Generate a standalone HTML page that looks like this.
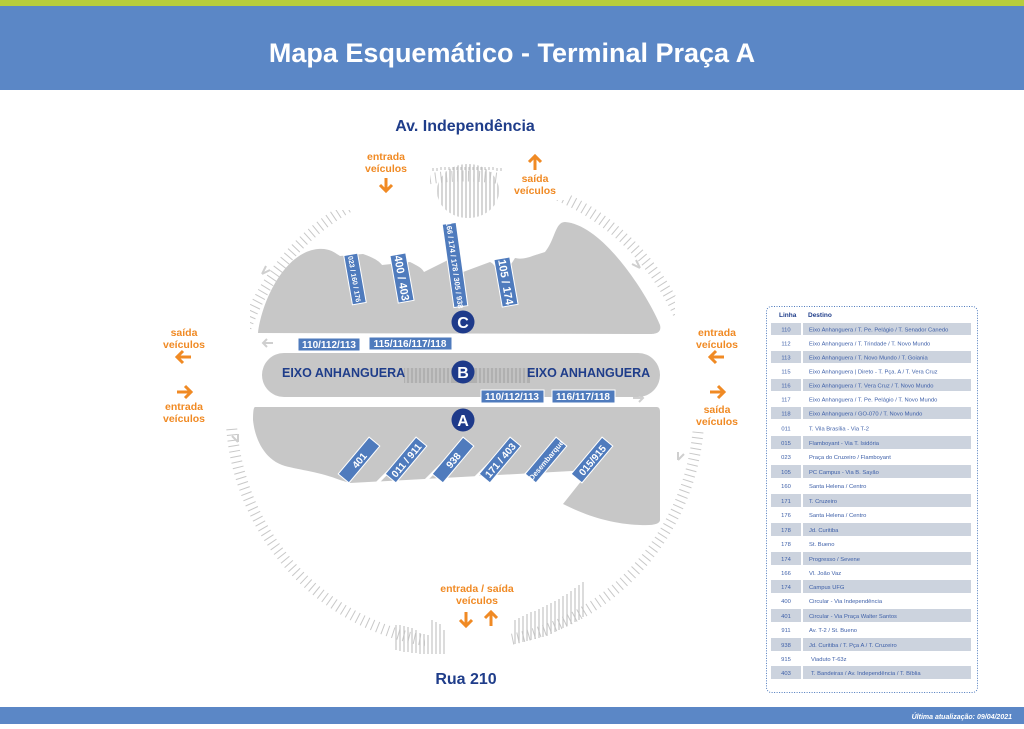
<!DOCTYPE html>
<html><head><meta charset="utf-8"><style>
body{margin:0;width:1024px;height:724px;overflow:hidden;background:#fff;font-family:"Liberation Sans",sans-serif}
</style></head><body>
<svg width="1024" height="724" viewBox="0 0 1024 724" xmlns="http://www.w3.org/2000/svg" font-family="Liberation Sans, sans-serif">
<rect x="0" y="0" width="1024" height="6" fill="#b7cd3c"/>
<rect x="0" y="6" width="1024" height="84" fill="#5b87c6"/>
<text x="512" y="62" font-size="27" font-weight="bold" fill="#fff" text-anchor="middle">Mapa Esquemático - Terminal Praça A</text>
<rect x="0" y="707" width="1024" height="17" fill="#5b87c6"/>
<text x="1012" y="719" font-size="7" font-style="italic" font-weight="bold" fill="#fff" text-anchor="end">Última atualização: 09/04/2021</text>

<text x="465" y="131" font-size="16" font-weight="bold" fill="#1f3d8a" text-anchor="middle">Av. Independência</text>
<text x="466" y="684" font-size="16" font-weight="bold" fill="#1f3d8a" text-anchor="middle">Rua 210</text>

<!-- ring -->
<circle cx="465" cy="410" r="234" fill="none" stroke="#c8c8c8" stroke-width="11" stroke-dasharray="1 4.5"/>
<rect x="300" y="140" width="130" height="70" fill="#fff"/>
<rect x="500" y="140" width="68" height="60" fill="#fff"/>
<rect x="150" y="300" width="100" height="128" fill="#fff"/>
<rect x="675" y="296" width="100" height="134" fill="#fff"/>
<rect x="425" y="570" width="85" height="90" fill="#fff"/>
<!-- top hatch -->
<clipPath id="ce"><ellipse cx="468" cy="191" rx="31" ry="27"/></clipPath>
<g clip-path="url(#ce)">
<path d="M438 160V220M442 160V220M446 160V220M450 160V220M454 160V220M458 160V220M462 160V220M466 160V220M470 160V220M474 160V220M478 160V220M482 160V220M486 160V220M490 160V220M494 160V220M498 160V220" stroke="#c4c4c4" stroke-width="1.4"/></g>
<path d="M433 168V171M437 168V171M441 167V170M445 167V170M449 167V170M453 167V170M457 167V170M461 167V170M465 167V170M469 167V170M473 167V170M477 167V170M481 167V170M485 167V170M489 167V170M493 167V170M497 168V171M501 168V171" stroke="#c4c4c4" stroke-width="1.2"/>
<!-- bottom hatches -->
<path d="M396 625V650M400 625V651M404 626V652M408 627V652M412 628V653M416 630V653M420 633V654M424 634V654M428 635V654M432 620V654M436 622V654M440 624V654M444 630V654" stroke="#c4c4c4" stroke-width="1.2"/>
<path d="M515 620V644M519 618V643M523 616V642M527 614V641M531 612V640M535 611V639M539 609V638M543 607V637M547 605V636M551 603V634M555 601V632M559 599V630M563 596V628M567 594V626M571 591V624M575 588V622M579 585V620M583 582V617" stroke="#c4c4c4" stroke-width="1.2"/>

<!-- orange labels -->
<g fill="#f08a24" font-size="10.5" font-weight="bold" text-anchor="middle">
<text x="386" y="160">entrada</text><text x="386" y="172">veículos</text>
<text x="535" y="182">saída</text><text x="535" y="194">veículos</text>
<text x="184" y="336">saída</text><text x="184" y="348">veículos</text>
<text x="184" y="410">entrada</text><text x="184" y="422">veículos</text>
<text x="717" y="336">entrada</text><text x="717" y="348">veículos</text>
<text x="717" y="413">saída</text><text x="717" y="425">veículos</text>
<text x="477" y="592">entrada / saída</text><text x="477" y="604">veículos</text>
</g>
<g stroke="#f08a24" stroke-width="3" fill="none">
<path d="M386 178V191M380 185L386 191L392 185"/>
<path d="M535 170V156M529 162L535 156L541 162"/>
<path d="M191 357H177M183 351L177 357L183 363"/>
<path d="M177 392H191M185 386L191 392L185 398"/>
<path d="M724 357H710M716 351L710 357L716 363"/>
<path d="M710 392H724M718 386L724 392L718 398"/>
<path d="M466 612V626M460 620L466 626L472 620"/>
<path d="M491 626V612M485 618L491 612L497 618"/>
</g>
<g stroke="#cfcfcf" stroke-width="2" fill="none">
<path d="M273 343H263M267 339L263 343L267 347"/>
<path d="M633 398H643M639 394L643 398L639 402"/>
<path d="M262 274L270 270M262 274L266 266"/>
<path d="M640 268L632 264M640 268L636 260"/>
<path d="M238 442L232 436M238 442L238 434"/>
<path d="M678 460L684 454M678 460L678 452"/>
</g>

<!-- platform C -->
<path d="M258 333 C262 300 285 252 318 249 C330 248 335 253 340 256 L363 254 C375 258 380 262 382 265 L410 262 C418 266 422 268 424 272 L448 260 C452 262 454 268 455 275 L490 262 C495 264 497 270 500 282 L515 258 C525 260 528 257 545 252 C555 240 555 222 565 222 C605 225 650 300 660 325 C662 333 655 334 650 334 Z" fill="#c7c7c7"/>
<!-- platform B -->
<rect x="262" y="353" width="398" height="44" rx="22" fill="#c7c7c7"/>
<path d="M404 368H530V383H404Z" fill="#b0b0b0"/>
<path d="M406 368V383M410 368V383M414 368V383M418 368V383M422 368V383M426 368V383M430 368V383M434 368V383M438 368V383M442 368V383M446 368V383M450 368V383M478 368V383M482 368V383M486 368V383M490 368V383M494 368V383M498 368V383M502 368V383M506 368V383M510 368V383M514 368V383M518 368V383M522 368V383M526 368V383" stroke="#c7c7c7" stroke-width="1.5"/>
<!-- platform A -->
<path d="M255 407 H657 Q660 407 660 412 V520 Q660 526 640 525 C610 524 585 515 563 504 L590 470 L350 483 L340 480 C320 472 300 470 285 466 C265 460 255 440 253 420 Q253 407 255 407 Z" fill="#c7c7c7"/>
<!-- teeth gaps -->
<g stroke="#fff" stroke-width="3">
<path d="M372 488L405 455M418 488L451 455M465 488L498 455M512 488L545 455M558 488L585 462"/>
</g>

<!-- circles -->
<g font-weight="bold" font-size="16" fill="#fff" text-anchor="middle">
<circle cx="463" cy="322" r="11.5" fill="#1e3a8a"/><text x="463" y="328">C</text>
<circle cx="463" cy="372" r="11.5" fill="#1e3a8a"/><text x="463" y="378">B</text>
<circle cx="463" cy="420" r="11.5" fill="#1e3a8a"/><text x="463" y="426">A</text>
</g>
<g font-weight="bold" font-size="12.5" fill="#1f3d8a">
<text x="282" y="377">EIXO ANHANGUERA</text>
<text x="527" y="377">EIXO ANHANGUERA</text>
</g>

<!-- blue tags -->
<g font-weight="bold" fill="#fff" font-size="10" text-anchor="middle">
<rect x="298" y="338" width="62" height="13" fill="#4f7bbd" stroke="#fff"/><text x="329" y="348">110/112/113</text>
<rect x="369" y="337" width="83" height="13" fill="#4f7bbd" stroke="#fff"/><text x="410" y="347">115/116/117/118</text>
<rect x="481" y="390" width="63" height="13" fill="#4f7bbd" stroke="#fff"/><text x="512" y="400">110/112/113</text>
<rect x="552" y="390" width="63" height="13" fill="#4f7bbd" stroke="#fff"/><text x="583" y="400">116/117/118</text>
</g>
<g font-weight="bold" fill="#fff" text-anchor="middle">
<g transform="translate(355,279) rotate(80)"><rect x="-25" y="-7" width="50" height="14" fill="#4f7bbd" stroke="#fff"/><text x="0" y="3" font-size="7">023 / 160 / 176</text></g>
<g transform="translate(402,278) rotate(80)"><rect x="-24" y="-8" width="48" height="16" fill="#4f7bbd" stroke="#fff"/><text x="0" y="4" font-size="11">400 / 403</text></g>
<g transform="translate(455,265) rotate(82)"><rect x="-42" y="-7" width="84" height="14" fill="#4f7bbd" stroke="#fff"/><text x="0" y="3" font-size="7.5">166 / 174 / 178 / 305 / 938</text></g>
<g transform="translate(506,282) rotate(80)"><rect x="-24" y="-8" width="48" height="16" fill="#4f7bbd" stroke="#fff"/><text x="0" y="4" font-size="11">105 / 174</text></g>
<g transform="translate(359,460) rotate(-50)"><rect x="-24" y="-7" width="48" height="14" fill="#4f7bbd" stroke="#fff"/><text x="0" y="4" font-size="10">401</text></g>
<g transform="translate(406,460) rotate(-50)"><rect x="-24" y="-7" width="48" height="14" fill="#4f7bbd" stroke="#fff"/><text x="0" y="4" font-size="10">011 / 911</text></g>
<g transform="translate(453,460) rotate(-50)"><rect x="-24" y="-7" width="48" height="14" fill="#4f7bbd" stroke="#fff"/><text x="0" y="4" font-size="10">938</text></g>
<g transform="translate(500,460) rotate(-50)"><rect x="-24" y="-7" width="48" height="14" fill="#4f7bbd" stroke="#fff"/><text x="0" y="4" font-size="10">171 / 403</text></g>
<g transform="translate(546,460) rotate(-50)"><rect x="-24" y="-7" width="48" height="14" fill="#4f7bbd" stroke="#fff"/><text x="0" y="3" font-size="7.5">Desembarque</text></g>
<g transform="translate(592,460) rotate(-50)"><rect x="-24" y="-7" width="48" height="14" fill="#4f7bbd" stroke="#fff"/><text x="0" y="4" font-size="10">015/915</text></g>
</g>

<!-- table -->
<rect x="766.5" y="306.5" width="211" height="386" rx="5" fill="#fff" stroke="#4f7bbd" stroke-dasharray="1 1.5"/>
<g font-size="6.5" font-weight="bold" fill="#1f3d8a"><text x="779" y="317">Linha</text><text x="808" y="317">Destino</text></g>
<g font-size="5.8" fill="#3d5fa8">
<rect x="771" y="323" width="30" height="12" fill="#ccd3de"/><rect x="803" y="323" width="168" height="12" fill="#ccd3de"/><text x="786" y="331.5" text-anchor="middle">110</text><text x="809" y="331.5">Eixo Anhanguera / T. Pe. Pelágio / T. Senador Canedo</text>
<text x="786" y="345.5" text-anchor="middle">112</text><text x="809" y="345.5">Eixo Anhanguera / T. Trindade / T. Novo Mundo</text>
<rect x="771" y="351" width="30" height="12" fill="#ccd3de"/><rect x="803" y="351" width="168" height="12" fill="#ccd3de"/><text x="786" y="359.5" text-anchor="middle">113</text><text x="809" y="359.5">Eixo Anhanguera / T. Novo Mundo / T. Goiania</text>
<text x="786" y="373.5" text-anchor="middle">115</text><text x="809" y="373.5">Eixo Anhanguera | Direto - T. Pça. A / T. Vera Cruz</text>
<rect x="771" y="379" width="30" height="12" fill="#ccd3de"/><rect x="803" y="379" width="168" height="12" fill="#ccd3de"/><text x="786" y="387.5" text-anchor="middle">116</text><text x="809" y="387.5">Eixo Anhanguera / T. Vera Cruz / T. Novo Mundo</text>
<text x="786" y="401.5" text-anchor="middle">117</text><text x="809" y="401.5">Eixo Anhanguera / T. Pe. Pelágio / T. Novo Mundo</text>
<rect x="771" y="407" width="30" height="12" fill="#ccd3de"/><rect x="803" y="407" width="168" height="12" fill="#ccd3de"/><text x="786" y="415.5" text-anchor="middle">118</text><text x="809" y="415.5">Eixo Anhanguera / GO-070 / T. Novo Mundo</text>
<text x="786" y="430.5" text-anchor="middle">011</text><text x="809" y="430.5">T. Vila Brasília - Via T-2</text>
<rect x="771" y="436" width="30" height="13" fill="#ccd3de"/><rect x="803" y="436" width="168" height="13" fill="#ccd3de"/><text x="786" y="445" text-anchor="middle">015</text><text x="809" y="445">Flamboyant - Via T. Isidória</text>
<text x="786" y="459" text-anchor="middle">023</text><text x="809" y="459">Praça do Cruzeiro / Flamboyant</text>
<rect x="771" y="465" width="30" height="13" fill="#ccd3de"/><rect x="803" y="465" width="168" height="13" fill="#ccd3de"/><text x="786" y="474" text-anchor="middle">105</text><text x="809" y="474">PC Campus - Via B. Sayão</text>
<text x="786" y="488" text-anchor="middle">160</text><text x="809" y="488">Santa Helena / Centro</text>
<rect x="771" y="494" width="30" height="13" fill="#ccd3de"/><rect x="803" y="494" width="168" height="13" fill="#ccd3de"/><text x="786" y="503" text-anchor="middle">171</text><text x="809" y="503">T. Cruzeiro</text>
<text x="786" y="517" text-anchor="middle">176</text><text x="809" y="517">Santa Helena / Centro</text>
<rect x="771" y="523" width="30" height="13" fill="#ccd3de"/><rect x="803" y="523" width="168" height="13" fill="#ccd3de"/><text x="786" y="532" text-anchor="middle">178</text><text x="809" y="532">Jd. Curitiba</text>
<text x="786" y="546" text-anchor="middle">178</text><text x="809" y="546">St. Bueno</text>
<rect x="771" y="552" width="30" height="13" fill="#ccd3de"/><rect x="803" y="552" width="168" height="13" fill="#ccd3de"/><text x="786" y="561" text-anchor="middle">174</text><text x="809" y="561">Progresso / Sevene</text>
<text x="786" y="575" text-anchor="middle">166</text><text x="809" y="575">Vl. João Vaz</text>
<rect x="771" y="580" width="30" height="13" fill="#ccd3de"/><rect x="803" y="580" width="168" height="13" fill="#ccd3de"/><text x="786" y="589" text-anchor="middle">174</text><text x="809" y="589">Campus UFG</text>
<text x="786" y="603" text-anchor="middle">400</text><text x="809" y="603">Circular - Via Independência</text>
<rect x="771" y="609" width="30" height="13" fill="#ccd3de"/><rect x="803" y="609" width="168" height="13" fill="#ccd3de"/><text x="786" y="618" text-anchor="middle">401</text><text x="809" y="618">Circular - Via Praça Walter Santos</text>
<text x="786" y="632" text-anchor="middle">911</text><text x="809" y="632">Av. T-2 / St. Bueno</text>
<rect x="771" y="638" width="30" height="13" fill="#ccd3de"/><rect x="803" y="638" width="168" height="13" fill="#ccd3de"/><text x="786" y="647" text-anchor="middle">938</text><text x="809" y="647">Jd. Curitiba / T. Pça A / T. Cruzeiro</text>
<text x="786" y="661" text-anchor="middle">915</text><text x="811" y="661">Viaduto T-63z</text>
<rect x="771" y="666" width="30" height="13" fill="#ccd3de"/><rect x="803" y="666" width="168" height="13" fill="#ccd3de"/><text x="786" y="675" text-anchor="middle">403</text><text x="811" y="675">T. Bandeiras / Av. Independência / T. Bíblia</text>
</g>
</svg>
</body></html>
